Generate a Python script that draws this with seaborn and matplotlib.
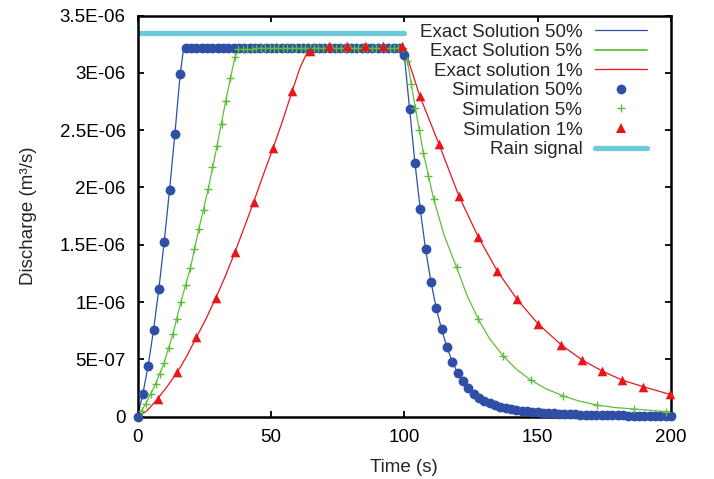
import matplotlib
matplotlib.use("Agg")
import matplotlib.pyplot as plt
from matplotlib.lines import Line2D
import seaborn as sns

UNIT = 1e-6  # discharge values below are in 1E-06 m^3/s

# ---------------- exact solutions ----------------
exact50_t = [0, 2, 4, 6, 8, 10, 12, 14, 16, 17.3, 99.5, 100, 102, 104, 106, 108, 110, 112,
             114, 116, 118, 120, 124, 130, 140, 150, 160, 180, 200]
exact50_q = [0, 0.20, 0.445, 0.754, 1.114, 1.524, 1.976, 2.464, 2.988, 3.215, 3.215, 3.16,
             2.685, 2.216, 1.81, 1.46, 1.178, 0.946, 0.763, 0.606, 0.48, 0.384, 0.248, 0.138,
             0.066, 0.037, 0.023, 0.012, 0.007]

exact5_t = [0, 3, 6.75, 10, 13.25, 16.25, 19.8, 23, 26.5, 29.8, 33.1, 36.5, 38, 50, 100,
            101.2, 104.2, 107.2, 111, 115, 119.6, 123.5, 127.7, 132, 137.1, 142, 147.4, 153,
            159.4, 165, 172.1, 179, 186.1, 193, 200]
exact5_q = [0, 0.108, 0.285, 0.471, 0.722, 1.0, 1.295, 1.638, 1.984, 2.362, 2.758, 3.136,
            3.21, 3.218, 3.22, 3.10, 2.69, 2.30, 1.90, 1.58, 1.304, 1.06, 0.853, 0.68, 0.53,
            0.415, 0.32, 0.245, 0.183, 0.14, 0.102, 0.08, 0.067, 0.054, 0.042]

exact1_t = [0, 3.5, 7.5, 11, 14.9, 18.5, 22.1, 25.8, 29.4, 33, 36.5, 40, 43.5, 47, 50.8, 54.5,
            58, 61, 64.5, 100, 105.8, 113, 120.5, 127.7, 134.8, 142.3, 150.2, 158.9, 166.7,
            174.2, 181.6, 189.6, 200]
exact1_q = [0, 0.05, 0.154, 0.26, 0.387, 0.53, 0.693, 0.86, 1.038, 1.23, 1.435, 1.65, 1.871,
            2.10, 2.342, 2.59, 2.842, 3.05, 3.22, 3.22, 2.80, 2.38, 1.925, 1.571, 1.274, 1.024,
            0.809, 0.626, 0.495, 0.399, 0.32, 0.262, 0.192]

# ---------------- simulations ----------------
sim50_t = list(range(0, 201, 2))
sim50_q = [0, 0.20, 0.445, 0.754, 1.114, 1.524, 1.976, 2.464, 2.988,
           3.215, 3.215, 3.215, 3.215, 3.215, 3.215, 3.215, 3.215, 3.215, 3.215,
           3.215, 3.215, 3.215, 3.215, 3.215, 3.215, 3.215, 3.215, 3.215, 3.215,
           3.215, 3.215, 3.215, 3.215, 3.215, 3.215, 3.215, 3.215, 3.215, 3.215,
           3.215, 3.215, 3.215, 3.215, 3.215, 3.215, 3.215, 3.215, 3.215, 3.215,
           3.215,
           3.16, 2.685, 2.216, 1.81, 1.46, 1.178, 0.946, 0.763, 0.606, 0.48, 0.384, 0.309,
           0.248, 0.198,
           0.165, 0.138, 0.117, 0.100, 0.087, 0.076, 0.066, 0.058, 0.052, 0.046, 0.041,
           0.037, 0.033, 0.030, 0.028, 0.025, 0.023, 0.021, 0.020, 0.018, 0.017, 0.016,
           0.015, 0.014, 0.013, 0.012, 0.012, 0.011, 0.010, 0.010, 0.009, 0.009, 0.008,
           0.008, 0.008, 0.007, 0.007]

sim5_t = [1.6, 3.0, 5.0, 6.75, 8.5, 10.0, 11.75, 13.25, 14.75, 16.25, 18.0, 19.8,
          21.3, 23.0, 24.8, 26.5, 28.1, 29.8, 31.5, 33.1, 34.8, 36.5, 37.8,
          39.5, 41.2, 42.8, 44.5, 46.2, 47.8, 49.5, 51.2, 52.8, 54.5,
          56.2, 57.8, 59.5, 61.2, 62.8, 64.5, 66.2, 67.8, 69.5,
          71.2, 72.8, 74.5, 76.2, 77.8, 79.5, 81.2, 82.8, 84.5,
          86.2, 87.8, 89.5, 91.2, 92.8, 94.5, 96.2, 97.8, 99.5,
          101.2, 102.7, 104.2, 105.6, 107.2, 109.0, 111.0, 119.6, 127.7, 137.1, 147.4, 159.4,
          172.1, 186.1, 198.3]
sim5_q = [0.05, 0.108, 0.198, 0.285, 0.373, 0.471, 0.597, 0.722, 0.853, 1.0, 1.149, 1.295,
          1.46, 1.638, 1.80, 1.984, 2.176, 2.362, 2.554, 2.758, 2.958, 3.136, 3.206,
          3.21, 3.211, 3.212, 3.213, 3.214, 3.215, 3.216, 3.217, 3.218, 3.219,
          3.22, 3.22, 3.22, 3.22, 3.22, 3.22, 3.22, 3.22, 3.22,
          3.22, 3.22, 3.22, 3.22, 3.22, 3.22, 3.22, 3.22, 3.22,
          3.22, 3.22, 3.22, 3.22, 3.22, 3.22, 3.22, 3.22, 3.22,
          3.10, 2.90, 2.69, 2.50, 2.30, 2.10, 1.90, 1.304, 0.853, 0.53, 0.32, 0.183,
          0.102, 0.067, 0.044]

sim1_t = [7.5, 14.9, 22.1, 29.4, 36.5, 43.5, 50.8, 58.0, 64.8, 71.7, 78.5, 85.3, 92.1, 99.0,
          105.8, 113.0, 120.5, 127.7, 134.8, 142.3, 150.2, 158.9, 166.7, 174.2, 181.6, 189.6,
          199.6]
sim1_q = [0.154, 0.387, 0.693, 1.038, 1.435, 1.871, 2.342, 2.842, 3.19, 3.235, 3.235, 3.235,
          3.235, 3.235, 2.80, 2.38, 1.925, 1.571, 1.274, 1.024, 0.809, 0.626, 0.495, 0.399,
          0.32, 0.262, 0.195]

rain_t = [0, 100]
rain_q = [3.35, 3.35]

labels = ["Exact Solution 50%", "Exact Solution 5%", "Exact solution 1%",
          "Simulation 50%", "Simulation 5%", "Simulation 1%", "Rain signal"]
xticks = [0, 50, 100, 150, 200]
yticks = [0, 0.5, 1.0, 1.5, 2.0, 2.5, 3.0, 3.5]
ytick_labels = ["0", "5E-07", "1E-06", "1.5E-06", "2E-06", "2.5E-06", "3E-06", "3.5E-06"]

BLUE = "#2f4fa6"
GREEN = "#5fbf3c"
RED = "#e8161b"
CYAN = "#6cc9d8"
FS = 13.5

sns.set_style("ticks")
plt.rcParams["font.family"] = ["Liberation Sans", "DejaVu Sans"]

fig = plt.figure(figsize=(7.14, 4.79), dpi=100)
ax = fig.add_axes([137.5 / 714, (479 - 416.7) / 479, 533.5 / 714, 401.1 / 479])

def sc(v):
    return [x * UNIT for x in v]

sns.lineplot(x=rain_t, y=sc(rain_q), color=CYAN, lw=3.8, ax=ax, estimator=None, sort=False)
sns.lineplot(x=exact50_t, y=sc(exact50_q), color=BLUE, lw=0.9, ax=ax, estimator=None, sort=False)
sns.lineplot(x=exact5_t, y=sc(exact5_q), color=GREEN, lw=0.9, ax=ax, estimator=None, sort=False)
sns.lineplot(x=exact1_t, y=sc(exact1_q), color=RED, lw=0.9, ax=ax, estimator=None, sort=False)

sns.scatterplot(x=sim50_t, y=sc(sim50_q), color=BLUE, marker="o", s=50, linewidth=0,
                ax=ax, clip_on=False, zorder=3)
sns.scatterplot(x=sim5_t, y=sc(sim5_q), color=GREEN, marker="+", s=38, linewidth=1.0,
                ax=ax, clip_on=False, zorder=4)
sns.scatterplot(x=sim1_t, y=sc(sim1_q), color=RED, marker="^", s=48, linewidth=0,
                ax=ax, clip_on=False, zorder=5)

ax.set_xlim(0, 200)
ax.set_ylim(0, 3.5e-6)
ax.set_xticks(xticks)
ax.set_xticklabels([str(v) for v in xticks])
ax.set_yticks([v * UNIT for v in yticks])
ax.set_yticklabels(ytick_labels)
ax.tick_params(direction="in", length=4.5, width=1.3, top=True, right=True,
               labelsize=FS, colors="black")
ax.tick_params(axis="x", pad=9)
ax.tick_params(axis="y", pad=8.5)
for sp in ax.spines.values():
    sp.set_linewidth(1.8)
    sp.set_color("black")
    sp.set_visible(True)

ax.set_xlabel("Time (s)", fontsize=FS, labelpad=9)
ax.set_ylabel("Discharge (m³/s)", fontsize=FS, labelpad=16)

handles = [
    Line2D([], [], color=BLUE, lw=0.9),
    Line2D([], [], color=GREEN, lw=1.3),
    Line2D([], [], color=RED, lw=0.9),
    Line2D([], [], color=BLUE, marker="o", ls="none", markersize=7.0, markeredgewidth=0),
    Line2D([], [], color=GREEN, marker="+", ls="none", markersize=6.4, markeredgewidth=1.0),
    Line2D([], [], color=RED, marker="^", ls="none", markersize=6.9, markeredgewidth=0),
    Line2D([], [], color=CYAN, lw=3.8),
]
ax.legend(handles, labels, loc="upper right", bbox_to_anchor=(0.955, 0.980), frameon=False,
          markerfirst=False, fontsize=FS, borderpad=0, handlelength=2.77, handletextpad=0.68,
          labelspacing=0.13, borderaxespad=0)

fig.savefig("out.png", dpi=100)
